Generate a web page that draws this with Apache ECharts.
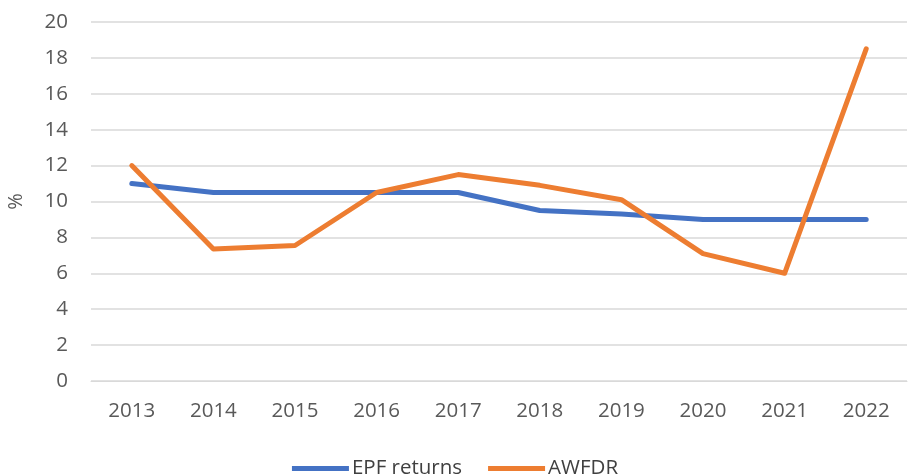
<!DOCTYPE html>
<html><head><meta charset="utf-8">
<script src="https://cdn.jsdelivr.net/npm/echarts@6/dist/echarts.min.js"></script>
<style>html,body{margin:0;padding:0;background:#fff}#c{width:910px;height:474px}</style>
</head><body><div id="c"></div>
<script>
const years = ['2013','2014','2015','2016','2017','2018','2019','2020','2021','2022'];
const epfReturns = [11, 10.5, 10.5, 10.5, 10.5, 9.5, 9.3, 9, 9, 9];
const awfdr = [12, 7.35, 7.55, 10.5, 11.5, 10.9, 10.1, 7.1, 6, 18.5];
const yTicks = {min: 0, max: 20, interval: 2};

const chart = echarts.init(document.getElementById('c'));
const font = 'Open Sans';
chart.setOption({
  animation: false,
  grid: {left: 91, right: 3, top: 22, bottom: 93, containLabel: false, outerBoundsMode: 'none'},
  legend: {
    top: 453, left: 'center', itemWidth: 57, itemHeight: 5, itemGap: 26,
    icon: 'rect',
    textStyle: {fontFamily: font, fontSize: 20.5, color: '#404040', padding: [0, 0, 0, -2]},
    data: ['EPF returns', 'AWFDR']
  },
  xAxis: {
    type: 'category', data: years, boundaryGap: true,
    axisLine: {show: true, lineStyle: {color: '#d9d9d9'}}, axisTick: {show: false},
    axisLabel: {fontFamily: font, fontSize: 20.5, color: '#595959', margin: 20}
  },
  yAxis: {
    type: 'value', min: yTicks.min, max: yTicks.max, interval: yTicks.interval,
    name: '%', nameLocation: 'middle', nameGap: 65, nameRotate: 90,
    nameTextStyle: {fontFamily: font, fontSize: 20, color: '#595959'},
    axisLine: {show: false}, axisTick: {show: false},
    axisLabel: {fontFamily: font, fontSize: 20.5, color: '#595959', margin: 23},
    splitLine: {lineStyle: {color: '#d9d9d9', width: 1.5}}
  },
  series: [
    {name: 'EPF returns', type: 'line', data: epfReturns, symbol: 'none',
     lineStyle: {color: '#4472C4', width: 5, cap: 'round', join: 'round'}, itemStyle: {color: '#4472C4'}},
    {name: 'AWFDR', type: 'line', data: awfdr, symbol: 'none',
     lineStyle: {color: '#ED7D31', width: 5, cap: 'round', join: 'round'}, itemStyle: {color: '#ED7D31'}}
  ]
});
</script></body></html>
